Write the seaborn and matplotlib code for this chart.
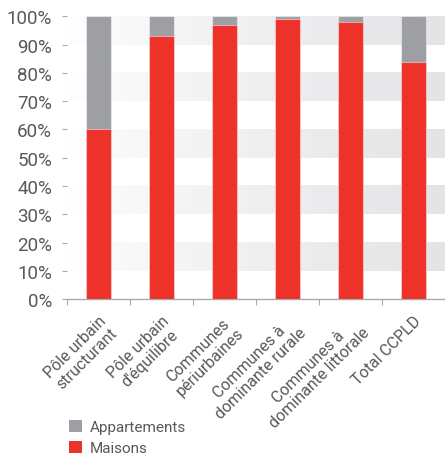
import numpy as np
import pandas as pd
import matplotlib
matplotlib.use("Agg")
import matplotlib.pyplot as plt
from matplotlib.patches import Patch
import seaborn as sns

# Housing type share by territory (%)
categories = [
    "Pôle urbain\nstructurant",
    "Pôle urbain\nd'équilibre",
    "Communes\npériurbaines",
    "Communes à\ndominante rurale",
    "Communes à\ndominante littorale",
    "Total CCPLD",
]
maisons = [60, 93, 97, 99, 98, 84]
appartements = [40, 7, 3, 1, 2, 16]
y_ticks = [0, 10, 20, 30, 40, 50, 60, 70, 80, 90, 100]

RED = "#ee3129"
GREY = "#9d9fa2"
TEXT = "#58595b"

sns.set_theme(style="white")
plt.rcParams["font.family"] = ["Roboto", "DejaVu Sans"]

df = pd.DataFrame({
    "zone": categories,
    "Maisons": maisons,
    "total": np.array(maisons) + np.array(appartements),
})

fig = plt.figure(figsize=(4.45, 4.56), dpi=100)
ax = fig.add_axes([0.15, 0.342, 0.85, 0.62])

# alternating bands with a soft left-to-right fade
grad = np.linspace(0, 1, 256)
band = np.zeros((1, 256, 4))
band[..., 0] = 0.895
band[..., 1] = 0.898
band[..., 2] = 0.906
band[..., 3] = grad ** 0.8
for lo in range(10, 100, 20):
    ax.imshow(band, extent=(-0.5, 5.5, lo, lo + 10), aspect="auto",
              interpolation="bilinear", zorder=0)

edge = dict(edgecolor=(1, 1, 1, 0.45), linewidth=0.8)
sns.barplot(data=df, x="zone", y="total", color=GREY, width=0.39,
            saturation=1, ax=ax, zorder=2, **edge)
sns.barplot(data=df, x="zone", y="Maisons", color=RED, width=0.39,
            saturation=1, ax=ax, zorder=3, **edge)

ax.set_xlim(-0.5, 5.5)
ax.set_ylim(0, 100)
ax.set_xlabel("")
ax.set_ylabel("")

for s in ["top", "right", "left"]:
    ax.spines[s].set_visible(False)
ax.spines["bottom"].set_color("#a7a9ac")
ax.spines["bottom"].set_linewidth(1.0)

ax.set_yticks(y_ticks)
ax.set_yticklabels([f"{v}%" for v in y_ticks], fontsize=13.5, color=TEXT)
ax.tick_params(axis="y", left=True, length=3.5, width=0.8, color="#a7a9ac",
               pad=7)

ax.set_xticks(range(len(categories)))
ax.set_xticklabels(categories, rotation=45, ha="right", va="top",
                   rotation_mode="anchor", fontsize=11.5, color=TEXT,
                   multialignment="center", linespacing=1.1)
ax.tick_params(axis="x", bottom=False, pad=4)
ax.set_xticks(np.arange(-0.5, 5.6, 1), minor=True)
ax.tick_params(axis="x", which="minor", bottom=True, length=4, width=0.8,
               color="#a7a9ac")

handles = [Patch(facecolor=GREY, edgecolor="none", label="Appartements"),
           Patch(facecolor=RED, edgecolor="none", label="Maisons")]
fig.legend(handles=handles, loc="lower left", bbox_to_anchor=(0.125, -0.03),
           frameon=False, fontsize=11, handlelength=0.85, handleheight=0.85,
           handletextpad=0.5, labelspacing=0.4, labelcolor=TEXT)

fig.savefig("out.png", dpi=100)
